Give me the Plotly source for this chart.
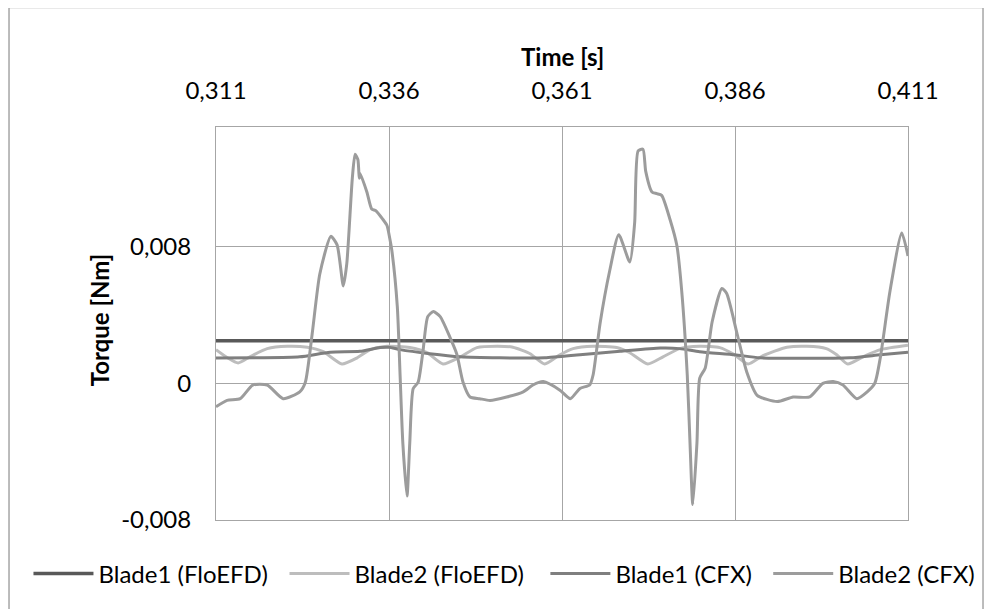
import plotly.graph_objects as go

# ---- data ----
x_ticks = [0.311, 0.336, 0.361, 0.386, 0.411]
x_tick_labels = ["0,311", "0,336", "0,361", "0,386", "0,411"]
y_ticks = [-0.008, 0.0, 0.008]
y_tick_labels = ["-0,008", "0", "0,008"]

b1_floefd_t = [0.311, 0.336, 0.361, 0.386, 0.411]
b1_floefd_v = [0.00249, 0.00249, 0.00249, 0.00249, 0.00249]

b2_floefd_t = [0.3110, 0.3126, 0.3142, 0.3159, 0.3184, 0.3213, 0.3242, 0.3265, 0.3292, 0.3314,
               0.3333, 0.3357, 0.3390, 0.3415, 0.3438, 0.3463, 0.3487, 0.3516, 0.3539, 0.3564,
               0.3585, 0.3607, 0.3626, 0.3655, 0.3689, 0.3708, 0.3734, 0.3756, 0.3780, 0.3809,
               0.3838, 0.3857, 0.3879, 0.3900, 0.3935, 0.3964, 0.3992, 0.4007, 0.4023, 0.4045,
               0.4070, 0.4110]
b2_floefd_v = [0.00197, 0.00151, 0.00119, 0.00155, 0.00203, 0.00217, 0.00211, 0.00185, 0.00113, 0.00149,
               0.00197, 0.00217, 0.00209, 0.00179, 0.00113, 0.00155, 0.00209, 0.00217, 0.00211, 0.00173,
               0.00113, 0.00167, 0.00203, 0.00217, 0.00209, 0.00179, 0.00113, 0.00155, 0.00203, 0.00217,
               0.00209, 0.00173, 0.00113, 0.00161, 0.00211, 0.00217, 0.00203, 0.00167, 0.00113, 0.00155,
               0.00197, 0.00223]

b1_cfx_t = [0.3110, 0.3174, 0.3231, 0.3275, 0.3318, 0.3347, 0.3360, 0.3376, 0.3419, 0.3463,
            0.3520, 0.3585, 0.3636, 0.3694, 0.3752, 0.3780, 0.3809, 0.3860, 0.3896, 0.4026,
            0.4070, 0.4110]
b1_cfx_v = [0.00148, 0.00149, 0.00155, 0.00182, 0.00187, 0.00209, 0.00211, 0.00197, 0.00173, 0.00155,
            0.00149, 0.00149, 0.00167, 0.00187, 0.00206, 0.00203, 0.00185, 0.00167, 0.00149, 0.00149,
            0.00167, 0.00182]

b2_cfx_t = [0.3110, 0.3126, 0.3145, 0.3163, 0.3184, 0.3207, 0.3231, 0.3239, 0.3249, 0.3260,
            0.3276, 0.3285, 0.3294, 0.3299, 0.3307, 0.3311, 0.3315, 0.3317, 0.3318, 0.3328,
            0.3335, 0.3341, 0.3351, 0.3357, 0.3361, 0.3364, 0.3372, 0.3376, 0.3380, 0.3386,
            0.3390, 0.3395, 0.3402, 0.3409, 0.3416, 0.3424, 0.3434, 0.3448, 0.3458, 0.3467,
            0.3477, 0.3491, 0.3506, 0.3530, 0.3554, 0.3568, 0.3583, 0.3607, 0.3622, 0.3636,
            0.3650, 0.3655, 0.3665, 0.3679, 0.3692, 0.3708, 0.3715, 0.3720, 0.3727, 0.3731,
            0.3740, 0.3747, 0.3754, 0.3766, 0.3776, 0.3783, 0.3791, 0.3795, 0.3799, 0.3805,
            0.3809, 0.3817, 0.3827, 0.3841, 0.3848, 0.3863, 0.3877, 0.3892, 0.3921, 0.3944,
            0.3968, 0.3987, 0.4002, 0.4016, 0.4036, 0.4051, 0.4062, 0.4070, 0.4084, 0.4101,
            0.4110]
b2_cfx_v = [-0.00137, -0.00100, -0.00090, -0.00010, -0.00010, -0.00090, -0.00050, 0.00005, 0.00290, 0.00640,
            0.00860, 0.00810, 0.00570, 0.00700, 0.01200, 0.01340, 0.01310, 0.01200, 0.01230, 0.01120,
            0.01020, 0.01010, 0.00960, 0.00925, 0.00850, 0.00780, 0.00450, 0.00050, -0.00350, -0.00660,
            -0.00350, -0.00030, 0.00005, 0.00185, 0.00390, 0.00420, 0.00390, 0.00270, 0.00170, 0.00006,
            -0.00080, -0.00090, -0.00100, -0.00080, -0.00050, -0.00010, 0.00010, -0.00040, -0.00090, -0.00030,
            -0.00010, 0.00050, 0.00350, 0.00660, 0.00870, 0.00710, 0.00940, 0.01360, 0.01370, 0.01240,
            0.01120, 0.01110, 0.01100, 0.00960, 0.00806, 0.00540, 0.00050, -0.00350, -0.00710, -0.00350,
            0.00030, 0.00090, 0.00360, 0.00555, 0.00525, 0.00290, 0.00066, -0.00070, -0.00107, -0.00080,
            -0.00080, 0.00000, 0.00010, -0.00010, -0.00090, -0.00050, 0.00000, 0.00150, 0.00540, 0.00880,
            0.00745]

FONT = "Lato"
FS = 24
GRID = "#A6A6A6"

fig = go.Figure()
series = [
    ("Blade1 (FloEFD)", b1_floefd_t, b1_floefd_v, "#595959", 3.5, "legend"),
    ("Blade2 (FloEFD)", b2_floefd_t, b2_floefd_v, "#BDBDBD", 3, "legend2"),
    ("Blade1 (CFX)", b1_cfx_t, b1_cfx_v, "#7F7F7F", 3, "legend3"),
    ("Blade2 (CFX)", b2_cfx_t, b2_cfx_v, "#9C9C9C", 3, "legend4"),
]
for name, t, v, c, w, lg in series:
    fig.add_trace(go.Scatter(x=t, y=v, name=name, mode="lines", legend=lg,
                             line=dict(color=c, width=w, shape="spline", smoothing=0.6)))


def leg(x):
    return dict(orientation="h", x=x, xanchor="left", y=-0.137, yanchor="middle",
                font=dict(family=FONT, size=FS), itemwidth=60,
                bgcolor="rgba(0,0,0,0)")


# plotly page has an 8px body margin: plot area = x 216..908, y 127..512 on screen
fig.update_layout(
    width=984, height=601, autosize=False,
    margin=dict(l=208, r=84, t=119, b=89, autoexpand=False),
    paper_bgcolor="white", plot_bgcolor="white",
    font=dict(family=FONT, size=FS, color="#000000"),
    showlegend=True,
    legend=leg(-0.271), legend2=leg(0.099), legend3=leg(0.476), legend4=leg(0.798),
    xaxis=dict(side="top", range=[0.311, 0.411], tickvals=x_ticks, ticktext=x_tick_labels,
               showgrid=True, gridcolor=GRID, gridwidth=1, zeroline=False,
               showline=True, linecolor=GRID, linewidth=1, mirror=True,
               ticks="", ticklabelstandoff=17, tickfont=dict(family=FONT, size=FS)),
    yaxis=dict(range=[-0.008, 0.015], tickvals=y_ticks, ticktext=y_tick_labels,
               showgrid=True, gridcolor=GRID, gridwidth=1, zeroline=False,
               showline=True, linecolor=GRID, linewidth=1, mirror=True,
               ticks="", ticklabelstandoff=19, tickfont=dict(family=FONT, size=FS)),
    annotations=[
        dict(text="<b>Time [s]</b>", xref="paper", yref="paper", x=0.5, y=1.179,
             xanchor="center", yanchor="middle", showarrow=False,
             font=dict(family=FONT, size=FS)),
        dict(text="<b>Torque [Nm]</b>", xref="paper", yref="paper", x=-0.168, y=0.51,
             xanchor="center", yanchor="middle", showarrow=False, textangle=-90,
             font=dict(family=FONT, size=FS)),
    ],
    shapes=[
        dict(type="rect", xref="paper", yref="paper", x0=-0.2991, x1=1.1084, y0=-0.2364, y1=1.3039,
             line=dict(color=GRID, width=1.5), fillcolor="rgba(0,0,0,0)", layer="below"),
    ],
)

fig.write_html("out.html")
